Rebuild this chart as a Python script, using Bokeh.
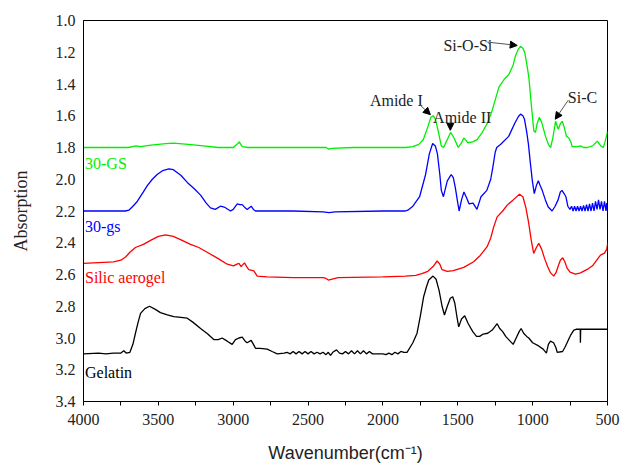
from bokeh.plotting import figure
from bokeh.models import Range1d, FixedTicker, PrintfTickFormatter, Label, Arrow, NormalHead
from bokeh.embed import file_html
from bokeh.resources import INLINE

# ---- data (wavenumber cm-1, absorption) ----
gs_x = [4000, 3900, 3800, 3700, 3650, 3620, 3550, 3450, 3400, 3300, 3200, 3100, 3000, 2975, 2960, 2940,
        2900, 2700, 2500, 2380, 2360, 2340, 2200, 2000, 1850, 1800, 1760, 1730, 1700, 1680, 1665, 1650,
        1630, 1610, 1595, 1575, 1548, 1525, 1497, 1475, 1460, 1445, 1433, 1400, 1371, 1340, 1304, 1275,
        1250, 1225, 1190, 1159, 1130, 1114, 1095, 1081, 1065, 1052, 1040, 1025, 1010, 992, 981, 970,
        956, 940, 914, 895, 880, 865, 847, 838, 829, 815, 802, 790, 774, 765, 758, 745, 735, 700, 680,
        660, 635, 600, 568, 545, 528, 515, 502, 500]
gs_y = [1.80, 1.80, 1.80, 1.80, 1.79, 1.795, 1.785, 1.775, 1.772, 1.78, 1.79, 1.80, 1.80, 1.78, 1.765, 1.795,
        1.80, 1.80, 1.80, 1.80, 1.81, 1.805, 1.80, 1.80, 1.80, 1.795, 1.78, 1.75, 1.67, 1.61, 1.60, 1.62,
        1.70, 1.79, 1.80, 1.76, 1.705, 1.74, 1.80, 1.77, 1.74, 1.755, 1.77, 1.765, 1.75, 1.71, 1.65, 1.58,
        1.50, 1.42, 1.37, 1.34, 1.28, 1.22, 1.18, 1.163, 1.175, 1.205, 1.27, 1.36, 1.52, 1.695, 1.705, 1.65,
        1.61, 1.64, 1.73, 1.78, 1.80, 1.74, 1.635, 1.66, 1.685, 1.65, 1.635, 1.67, 1.73, 1.735, 1.74, 1.765, 1.795, 1.795, 1.79,
        1.80, 1.80, 1.79, 1.76, 1.79, 1.80, 1.76, 1.71, 1.70]

gsl_x = [4000, 3800, 3720, 3697, 3670, 3641, 3600, 3574, 3540, 3508, 3470, 3430, 3400, 3350, 3307, 3260,
         3218, 3180, 3152, 3120, 3085, 3060, 3018, 3000, 2973, 2955, 2940, 2920, 2907, 2880, 2865, 2851,
         2600, 2400, 2360, 2320, 2000, 1850, 1834, 1800, 1755, 1715, 1690, 1668, 1650, 1636, 1620, 1610,
         1596, 1570, 1544, 1530, 1517, 1500, 1491, 1475, 1459, 1440, 1425, 1398, 1372, 1345, 1306, 1280,
         1266, 1250, 1240, 1213, 1160, 1121, 1095, 1081, 1065, 1055, 1040, 1028, 1015, 1002, 989, 975,
         962, 950, 936, 915, 896, 870, 850, 830, 815, 804, 790, 778, 765, 751, 740, 730, 720, 710, 700,
         690, 680, 670, 660, 650, 640, 630, 620, 610, 600, 590, 580, 570, 560, 550, 540, 530, 520, 510,
         505, 500]
gsl_y = [2.20, 2.20, 2.20, 2.195, 2.17, 2.14, 2.08, 2.04, 2.00, 1.97, 1.945, 1.935, 1.94, 1.975, 2.02, 2.06,
         2.10, 2.15, 2.18, 2.19, 2.17, 2.175, 2.20, 2.19, 2.155, 2.16, 2.16, 2.18, 2.19, 2.17, 2.19, 2.20,
         2.20, 2.205, 2.21, 2.205, 2.20, 2.20, 2.195, 2.17, 2.11, 1.97, 1.84, 1.775, 1.79, 1.84, 1.97, 2.07,
         2.11, 2.01, 1.97, 1.99, 2.05, 2.15, 2.20, 2.13, 2.08, 2.12, 2.155, 2.15, 2.19, 2.11, 2.07, 2.00,
         1.925, 1.83, 1.80, 1.78, 1.73, 1.65, 1.605, 1.59, 1.60, 1.62, 1.70, 1.78, 1.90, 2.01, 2.09, 2.04,
         2.01, 2.04, 2.07, 2.13, 2.175, 2.20, 2.17, 2.13, 2.08, 2.07, 2.09, 2.11, 2.17, 2.19, 2.17, 2.20, 2.17, 2.20, 2.17,
         2.20, 2.17, 2.20, 2.165, 2.20, 2.16, 2.20, 2.155, 2.20, 2.15, 2.20, 2.14, 2.19, 2.13, 2.19, 2.14, 2.20, 2.14, 2.20,
         2.15, 2.19]

sa_x = [4000, 3900, 3800, 3750, 3719, 3690, 3653, 3600, 3552, 3500, 3452, 3400, 3352, 3285, 3230, 3174,
        3100, 3040, 2998, 2975, 2962, 2947, 2925, 2910, 2896, 2862, 2840, 2773, 2600, 2400, 2380, 2365,
        2345, 2300, 2000, 1850, 1781, 1740, 1700, 1665, 1638, 1620, 1605, 1570, 1530, 1460, 1394, 1350,
        1304, 1280, 1260, 1237, 1200, 1170, 1130, 1088, 1065, 1045, 1026, 1010, 993, 975, 959, 940, 920,
        900, 880, 859, 845, 830, 815, 799, 785, 770, 750, 714, 680, 636, 600, 547, 520, 505, 498]
sa_y = [2.53, 2.525, 2.52, 2.51, 2.49, 2.46, 2.43, 2.41, 2.385, 2.36, 2.35, 2.36, 2.38, 2.41, 2.43, 2.46,
        2.50, 2.535, 2.546, 2.535, 2.53, 2.55, 2.527, 2.55, 2.57, 2.577, 2.61, 2.615, 2.62, 2.62, 2.625, 2.635,
        2.63, 2.62, 2.615, 2.61, 2.605, 2.595, 2.58, 2.55, 2.515, 2.535, 2.57, 2.58, 2.575, 2.555, 2.52, 2.48,
        2.425, 2.37, 2.30, 2.237, 2.20, 2.163, 2.13, 2.094, 2.11, 2.18, 2.278, 2.38, 2.467, 2.43, 2.404, 2.44, 2.50,
        2.55, 2.59, 2.61, 2.59, 2.55, 2.51, 2.495, 2.52, 2.56, 2.585, 2.597, 2.59, 2.568, 2.545, 2.478, 2.465, 2.44, 2.40]

gel_x = [4000, 3900, 3850, 3800, 3750, 3731, 3715, 3690, 3670, 3653, 3635, 3619, 3590, 3559, 3520, 3486,
         3440, 3397, 3350, 3307, 3270, 3218, 3170, 3130, 3100, 3074, 3040, 3007, 2985, 2962, 2940, 2920,
         2907, 2880, 2865, 2851, 2820, 2773, 2740, 2706, 2660, 2640, 2620, 2600, 2580, 2560, 2540, 2520,
         2500, 2480, 2460, 2440, 2420, 2400, 2380, 2365, 2350, 2335, 2310, 2290, 2270, 2250, 2230, 2210,
         2190, 2170, 2150, 2130, 2110, 2090, 2070, 2040, 2000, 1980, 1960, 1940, 1920, 1900, 1880, 1860,
         1839, 1800, 1772, 1750, 1728, 1710, 1694, 1665, 1645, 1625, 1605, 1589, 1570, 1550, 1534, 1520,
         1505, 1494, 1475, 1454, 1430, 1400, 1375, 1354, 1330, 1300, 1270, 1237, 1220, 1200, 1180, 1160,
         1130, 1110, 1090, 1077, 1060, 1040, 1026, 1000, 960, 930, 908, 895, 881, 860, 845, 836, 800, 785,
         770, 760, 745, 725, 710, 682, 681, 679, 600, 500]
gel_y = [3.10, 3.095, 3.10, 3.095, 3.095, 3.08, 3.095, 3.09, 3.04, 2.97, 2.90, 2.845, 2.815, 2.80, 2.82, 2.84,
         2.855, 2.865, 2.87, 2.875, 2.90, 2.94, 2.975, 3.01, 3.01, 3.00, 3.02, 3.04, 3.01, 3.00, 2.995, 3.02,
         3.03, 3.015, 3.04, 3.065, 3.065, 3.07, 3.085, 3.10, 3.095, 3.09, 3.10, 3.085, 3.10, 3.085, 3.10, 3.085,
         3.10, 3.085, 3.10, 3.09, 3.10, 3.09, 3.105, 3.09, 3.11, 3.09, 3.075, 3.095, 3.10, 3.085, 3.10, 3.08,
         3.10, 3.08, 3.10, 3.08, 3.10, 3.085, 3.10, 3.10, 3.10, 3.105, 3.095, 3.105, 3.09, 3.10, 3.085, 3.09,
         3.09, 3.03, 2.97, 2.86, 2.74, 2.68, 2.635, 2.61, 2.63, 2.70, 2.80, 2.855, 2.80, 2.75, 2.74, 2.78,
         2.87, 2.93, 2.88, 2.86, 2.91, 2.96, 2.99, 2.99, 2.975, 2.97, 2.95, 2.91, 2.94, 2.96, 2.99, 3.01,
         3.04, 3.00, 2.96, 2.94, 2.97, 2.99, 3.00, 3.03, 3.05, 3.07, 3.095, 3.04, 3.02, 3.03, 3.06, 3.09, 3.085, 3.06,
         3.03, 3.01, 2.98, 2.95, 2.945, 2.945, 3.03, 2.945, 2.945, 2.945]

series_names = ["30-GS", "30-gs", "Silic aerogel", "Gelatin"]
series_colors = ["#00ee00", "#0000ff", "#ff0000", "#000000"]

x_ticks = [4000, 3500, 3000, 2500, 2000, 1500, 1000, 500]
x_minor = [3750, 3250, 2750, 2250, 1750, 1250, 750]
y_ticks = [1.0, 1.2, 1.4, 1.6, 1.8, 2.0, 2.2, 2.4, 2.6, 2.8, 3.0, 3.2, 3.4]

SERIF = "Liberation Serif"
SANS = "Liberation Sans"

p = figure(width=620, height=465, output_backend="svg", toolbar_location=None,
           x_range=Range1d(4000, 500), y_range=Range1d(3.4, 1.0),
           min_border_left=83, min_border_right=13, min_border_top=20, min_border_bottom=63)
p.background_fill_color = "white"
p.border_fill_color = "white"
p.outline_line_color = "black"
p.outline_line_width = 1
p.grid.visible = False

for xs, ys, c in zip([gs_x, gsl_x, sa_x, gel_x], [gs_y, gsl_y, sa_y, gel_y], series_colors):
    p.line(xs, ys, line_color=c, line_width=1.3)

# axes
p.xaxis.ticker = FixedTicker(ticks=x_ticks, minor_ticks=x_minor)
p.yaxis.ticker = FixedTicker(ticks=y_ticks)
p.yaxis.formatter = PrintfTickFormatter(format="%.1f")
for ax in [p.xaxis[0], p.yaxis[0]]:
    ax.axis_line_color = "black"
    ax.major_label_text_font = SERIF
    ax.major_label_text_font_size = "16px"
    ax.major_label_text_color = "#222222"
    ax.axis_label_text_font_style = "normal"
    ax.axis_label_text_color = "#222222"
p.xaxis.major_tick_in = 0
p.xaxis.major_tick_out = 4
p.xaxis.minor_tick_in = 0
p.xaxis.minor_tick_out = 4
p.xaxis.major_tick_line_color = "black"
p.xaxis.minor_tick_line_color = "black"
p.xaxis.major_label_standoff = 8
p.xaxis.axis_label = "Wavenumber(cm\u207b\u00b9)"
p.xaxis.axis_label_text_font = SANS
p.xaxis.axis_label_text_font_size = "18px"
p.xaxis.axis_label_standoff = 15

p.yaxis.major_tick_line_color = None
p.yaxis.minor_tick_line_color = None
p.yaxis.major_tick_in = 0
p.yaxis.major_tick_out = 0
p.yaxis.major_label_standoff = 8
p.yaxis.axis_label = "Absorption"
p.yaxis.axis_label_text_font = SERIF
p.yaxis.axis_label_text_font_size = "18px"
p.yaxis.axis_label_standoff = 22

# series labels
label_pos = [(3990, 1.90), (3990, 2.30), (3990, 2.622), (3990, 3.22)]
for (lx, ly), name, c in zip(label_pos, series_names, series_colors):
    p.add_layout(Label(x=lx, y=ly, text=name, text_font=SERIF, text_font_size="16px",
                       text_color=c, text_baseline="alphabetic", text_align="left"))

# peak annotations
ann_text = ["Si-O-Si", "Amide I", "Amide II", "Si-C"]
ann_pos = [(1596, 1.157), (2087, 1.507), (1665, 1.612), (765, 1.486)]
for (ax_, ay_), t in zip(ann_pos, ann_text):
    p.add_layout(Label(x=ax_, y=ay_, text=t, text_font=SERIF, text_font_size="16px",
                       text_color="#222222", text_baseline="alphabetic", text_align="left"))

arrows = [((1303, 1.136), (1103, 1.157)),
          ((1750, 1.534), (1683, 1.593)),
          ((1550, 1.618), (1550, 1.692)),
          ((763, 1.503), (849, 1.622))]
for (x0, y0), (x1, y1) in arrows:
    p.add_layout(Arrow(end=NormalHead(size=7, fill_color="black", line_color="black"),
                       x_start=x0, y_start=y0, x_end=x1, y_end=y1,
                       line_color="#555555", line_width=1))

open("out.html", "w").write(file_html(p, INLINE))
